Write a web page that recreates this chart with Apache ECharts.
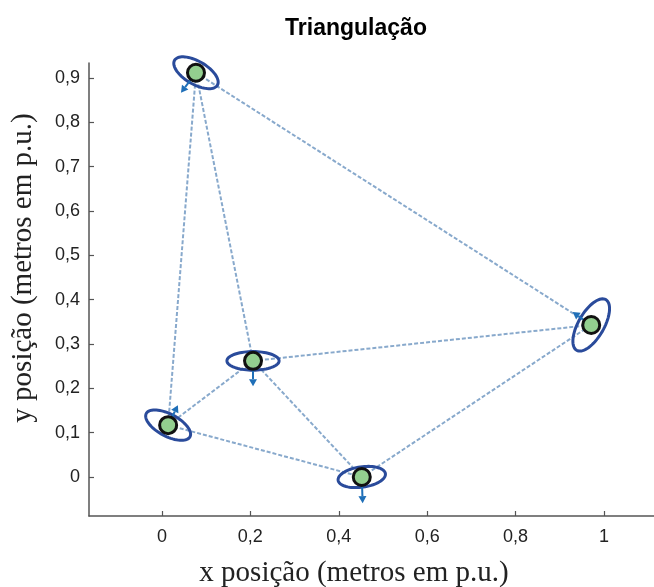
<!DOCTYPE html>
<html>
<head>
<meta charset="utf-8">
<title>Triangulação</title>
<script src="https://cdn.jsdelivr.net/npm/echarts@6/dist/echarts.min.js"></script>
<style>
  html, body { margin: 0; padding: 0; background: #fff; }
  #chart { width: 654px; height: 587px; }
</style>
</head>
<body>
<div id="chart"></div>
<script>
// Estimated node positions (metres, p.u.)
var nodeX = [0.077, 0.971, 0.206, 0.014, 0.452];
var nodeY = [0.912, 0.343, 0.262, 0.117, 0.000];

// Displacement estimate of each node (dx, dy)
var shiftX = [-0.034, -0.042, 0.000, 0.022, 0.002];
var shiftY = [-0.045, 0.029, -0.057, 0.045, -0.059];

// Uncertainty ellipses: semi-axes (p.u.) and orientation (degrees)
var ellipseA = [0.056, 0.066, 0.059, 0.056, 0.054];
var ellipseB = [0.026, 0.029, 0.021, 0.025, 0.023];
var ellipseAngle = [-30, 60, 0, -28, 8];

// Measured links between nodes (index pairs)
var links = [[0, 1], [0, 2], [0, 3], [2, 1], [2, 3], [2, 4], [3, 4], [4, 1]];

// Axis tick values
var xTicks = [0, 0.2, 0.4, 0.6, 0.8, 1];
var yTicks = [0, 0.1, 0.2, 0.3, 0.4, 0.5, 0.6, 0.7, 0.8, 0.9];

function commaFmt(v) {
  return String(Math.round(v * 10) / 10).replace('.', ',');
}

var linkData = links.map(function (p) {
  return { coords: [[nodeX[p[0]], nodeY[p[0]]], [nodeX[p[1]], nodeY[p[1]]]] };
});
var ellipseData = nodeX.map(function (x, i) {
  return [x, nodeY[i], ellipseA[i], ellipseB[i], ellipseAngle[i]];
});
var arrowData = nodeX.map(function (x, i) {
  return [x, nodeY[i], shiftX[i], shiftY[i]];
});
var nodeData = nodeX.map(function (x, i) { return [x, nodeY[i]]; });

var chart = echarts.init(document.getElementById('chart'), null, { renderer: 'canvas' });

var axisFont = { fontFamily: 'Liberation Sans, Arial, sans-serif', fontSize: 18, color: '#222' };

chart.setOption({
  animation: false,
  backgroundColor: '#fff',
  title: {
    text: 'Triangulação',
    left: 351,
    top: 12,
    textAlign: 'center',
    textStyle: { fontFamily: 'Liberation Sans, Arial, sans-serif', fontSize: 23, fontWeight: 'bold', color: '#000' }
  },
  grid: { left: 89, right: 0, top: 63, bottom: 71, containLabel: false },
  xAxis: {
    type: 'value',
    min: -0.165,
    max: 1.113,
    splitLine: { show: false },
    axisLine: { show: true, onZero: false, lineStyle: { color: '#555', width: 1.5 } },
    axisTick: { show: true, inside: true, length: 5, customValues: xTicks, lineStyle: { color: '#555', width: 1.2 } },
    axisLabel: Object.assign({ customValues: xTicks, margin: 12, formatter: commaFmt }, axisFont)
  },
  yAxis: {
    type: 'value',
    min: -0.088,
    max: 0.934,
    splitLine: { show: false },
    axisLine: { show: true, onZero: false, lineStyle: { color: '#555', width: 1.5 } },
    axisTick: { show: true, inside: true, length: 5, customValues: yTicks, lineStyle: { color: '#555', width: 1.2 } },
    axisLabel: Object.assign({ customValues: yTicks, margin: 9, formatter: commaFmt }, axisFont)
  },
  graphic: [
    {
      type: 'text',
      x: 354, y: 573,
      style: {
        text: 'x posição (metros em p.u.)',
        font: '29px "Liberation Serif", "Times New Roman", serif',
        fill: '#222', align: 'center', verticalAlign: 'middle'
      }
    },
    {
      type: 'text',
      x: 23, y: 268,
      rotation: Math.PI / 2,
      style: {
        text: 'y posição (metros em p.u.)',
        font: '29px "Liberation Serif", "Times New Roman", serif',
        fill: '#222', align: 'center', verticalAlign: 'middle'
      }
    }
  ],
  series: [
    {
      name: 'links',
      type: 'lines',
      coordinateSystem: 'cartesian2d',
      polyline: false,
      z: 1,
      silent: true,
      lineStyle: { color: '#88a9cc', width: 2, type: [4, 2], opacity: 1 },
      data: linkData
    },
    {
      name: 'ellipses',
      type: 'custom',
      z: 2,
      silent: true,
      data: ellipseData,
      renderItem: function (params, api) {
        var cx = api.value(0), cy = api.value(1);
        var a = api.value(2), b = api.value(3);
        var t = api.value(4) * Math.PI / 180;
        var pts = [];
        for (var k = 0; k < 72; k++) {
          var s = k / 72 * Math.PI * 2;
          var ex = a * Math.cos(s), ey = b * Math.sin(s);
          pts.push(api.coord([cx + ex * Math.cos(t) - ey * Math.sin(t),
                              cy + ex * Math.sin(t) + ey * Math.cos(t)]));
        }
        return {
          type: 'polygon',
          shape: { points: pts },
          style: { fill: 'none', stroke: '#2a4b9b', lineWidth: 3 }
        };
      }
    },
    {
      name: 'shifts',
      type: 'custom',
      z: 3,
      silent: true,
      data: arrowData,
      renderItem: function (params, api) {
        var p0 = api.coord([api.value(0), api.value(1)]);
        var p1 = api.coord([api.value(0) + api.value(2), api.value(1) + api.value(3)]);
        var dx = p1[0] - p0[0], dy = p1[1] - p0[1];
        var len = Math.sqrt(dx * dx + dy * dy) || 1;
        var ux = dx / len, uy = dy / len;
        var hl = 7, hw = 4;
        var bx = p1[0] - ux * hl, by = p1[1] - uy * hl;
        return {
          type: 'group',
          children: [
            {
              type: 'line',
              shape: { x1: p0[0], y1: p0[1], x2: bx, y2: by },
              style: { stroke: '#1f6fb8', lineWidth: 2 }
            },
            {
              type: 'polygon',
              shape: { points: [p1, [bx - uy * hw, by + ux * hw], [bx + uy * hw, by - ux * hw]] },
              style: { fill: '#1f6fb8' }
            }
          ]
        };
      }
    },
    {
      name: 'nodes',
      type: 'scatter',
      z: 4,
      symbol: 'circle',
      symbolSize: 17,
      itemStyle: { color: '#93cf8f', borderColor: '#111', borderWidth: 3, opacity: 1 },
      data: nodeData
    }
  ]
});
</script>
</body>
</html>
